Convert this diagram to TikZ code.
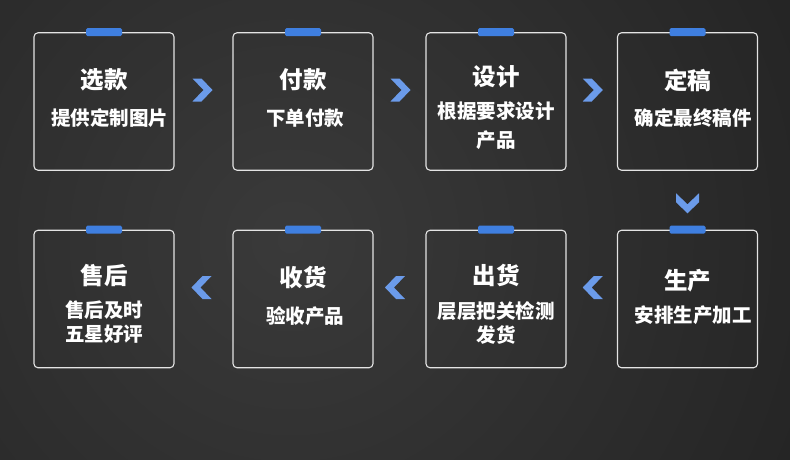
\documentclass[tikz,border=0pt]{standalone}
\usepackage{fontspec}
\newfontfamily\cjk{Noto Sans CJK SC}
\usepackage{xcolor}
\usetikzlibrary{calc, positioning}

\definecolor{tabblue}{HTML}{3F7FE0}
\definecolor{chevblue}{HTML}{6B9BEA}
\definecolor{cardline}{HTML}{E4E4E4}
\definecolor{bglight}{HTML}{3A3A3A}
\definecolor{bgdark}{HTML}{121212}

\tikzset{
    card/.style={draw=cardline, line width=1.1pt, rounded corners=4pt,
        minimum width=140pt, minimum height=137.5pt, inner sep=0pt},
    cardtab/.style={fill=tabblue, rounded corners=1.5pt,
        minimum width=36pt, minimum height=8pt, inner sep=0pt},
    ttl/.style={text=white, inner sep=0pt,
        font=\cjk\bfseries\fontsize{23.5}{28}\selectfont},
    subtxt/.style={text=white, inner sep=0pt, align=center,
        font=\cjk\bfseries\fontsize{19.5}{24}\selectfont},
    chev/.pic={\fill[chevblue] (-10,-11.5) -- (-1,-11.5) -- (10,0)
        -- (-1,11.5) -- (-10,11.5) -- (1,0) -- cycle;}
}

\begin{document}
\begin{tikzpicture}[x=1pt, y=-1pt]
    % Nền
    \useasboundingbox (0,0) rectangle (790,459);
    \fill[bgdark] (0,0) rectangle (790,459);
    \begin{scope}
        \clip (0,0) rectangle (790,459);
        \shade[inner color=bglight, outer color=bgdark]
            (-750,-800) rectangle (1330,1280);
    \end{scope}

    % Các ô
    \foreach \n/\x/\y in {c1/104/101.5, c2/303/101.5, c3/496/101.5, c4/687.5/101.5,
                          c5/104/299, c6/303/299, c7/496/299, c8/687.5/299} {
        \node[card] (\n) at (\x,\y) {};
        \node[cardtab] (\n-tab) at (\n.north) {};
    }

    % Chữ
    \foreach \n/\t/\ty/\s/\sx/\sy in {
        c1/选款/21.5/提供定制图片/5.5/-16.5,
        c2/付款/21.5/下单付款/2/-16.5,
        c3/设计/24.5/{根据要求设计\\[5pt]产品}/0/-24,
        c4/定稿/21.5/确定最终稿件/5.5/-16.5,
        c5/售后/23/{售后及时\\五星好评}/0/-23,
        c6/收货/21/验收产品/2/-17,
        c7/出货/24/{层层把关检测\\发货}/0/-24,
        c8/生产/18/安排生产加工/5.5/-16} {
        \node[ttl] (\n-t) at ([yshift=\ty pt]\n.center) {\t};
        \node[subtxt] (\n-s) at ([xshift=\sx pt, yshift=\sy pt]\n.center) {\s};
    }

    % Mũi tên
    \foreach \a/\b/\r/\dx in {c1/c2/0/-1, c2/c3/0/1, c3/c4/0/1,
                              c8/c7/180/1, c7/c6/180/-4.5, c6/c5/180/-2} {
        \pic[rotate=\r] at ($(\a)!0.5!(\b)+(\dx,-11.5)$) {chev};
    }
    \pic[rotate=-90] at ($(c4.south)!0.5!(c8.north)+(0,3)$) {chev};
\end{tikzpicture}
\end{document}
